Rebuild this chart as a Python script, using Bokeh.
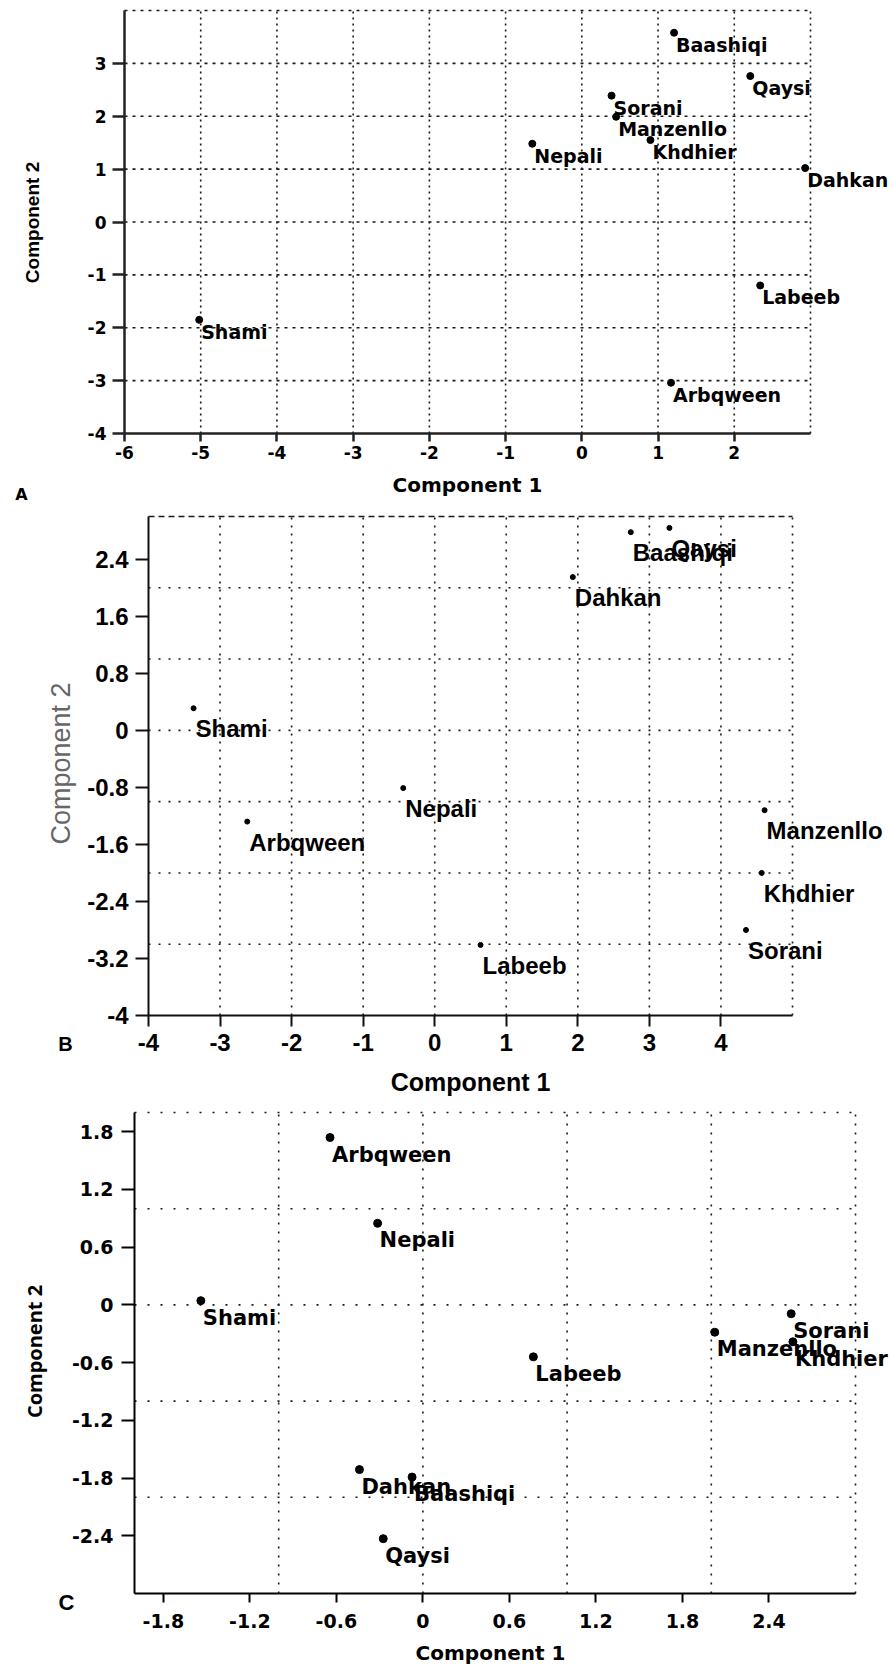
from bokeh.plotting import figure
from bokeh.models import Range1d, FixedTicker, LabelSet, Label, ColumnDataSource, LinearAxis
from bokeh.layouts import column
from bokeh.embed import file_html
from bokeh.resources import INLINE
from bokeh.core.properties import value

# ---------------- data ----------------
a_names = ["Baashiqi", "Qaysi", "Sorani", "Manzenllo", "Khdhier", "Nepali", "Dahkan", "Labeeb", "Shami", "Arbqween"]
a_x = [1.21, 2.21, 0.39, 0.45, 0.90, -0.65, 2.93, 2.34, -5.02, 1.17]
a_y = [3.58, 2.76, 2.39, 1.99, 1.55, 1.48, 1.02, -1.20, -1.85, -3.04]
a_xticks = [-6, -5, -4, -3, -2, -1, 0, 1, 2]
a_xtick_labels = ["-6", "-5", "-4", "-3", "-2", "-1", "0", "1", "2"]
a_yticks = [-4, -3, -2, -1, 0, 1, 2, 3]
a_ytick_labels = ["-4", "-3", "-2", "-1", "0", "1", "2", "3"]

b_names = ["Baashiqi", "Qaysi", "Dahkan", "Shami", "Nepali", "Arbqween", "Labeeb", "Manzenllo", "Khdhier", "Sorani"]
b_x = [2.74, 3.28, 1.93, -3.37, -0.44, -2.62, 0.64, 4.61, 4.57, 4.35]
b_y = [2.78, 2.84, 2.15, 0.31, -0.81, -1.28, -3.01, -1.12, -2.00, -2.80]
b_xticks = [-4, -3, -2, -1, 0, 1, 2, 3, 4]
b_xtick_labels = ["-4", "-3", "-2", "-1", "0", "1", "2", "3", "4"]
b_yticks = [-4, -3.2, -2.4, -1.6, -0.8, 0, 0.8, 1.6, 2.4]
b_ytick_labels = ["-4", "-3.2", "-2.4", "-1.6", "-0.8", "0", "0.8", "1.6", "2.4"]

c_names = ["Arbqween", "Nepali", "Shami", "Sorani", "Manzenllo", "Khdhier", "Labeeb", "Dahkan", "Baashiqi", "Qaysi"]
c_x = [-0.644, -0.314, -1.54, 2.554, 2.024, 2.566, 0.766, -0.44, -0.075, -0.275]
c_y = [1.74, 0.848, 0.044, -0.092, -0.284, -0.384, -0.54, -1.712, -1.79, -2.43]
c_xticks = [-1.8, -1.2, -0.6, 0, 0.6, 1.2, 1.8, 2.4]
c_xtick_labels = ["-1.8", "-1.2", "-0.6", "0", "0.6", "1.2", "1.8", "2.4"]
c_yticks = [-2.4, -1.8, -1.2, -0.6, 0, 0.6, 1.2, 1.8]
c_ytick_labels = ["-2.4", "-1.8", "-1.2", "-0.6", "0", "0.6", "1.2", "1.8"]

PAGE_L, PAGE_R = 0, 891
W = PAGE_R - PAGE_L


def make_panel(cfg):
    L, R, T, Bm = cfg["frame"]          # plot box in page pixels
    top0, H = cfg["fig_top"], cfg["fig_h"]
    x0, x1 = cfg["xr"]
    y0, y1 = cfg["yr"]
    kx = (R - L) / (x1 - x0)
    ky = (Bm - T) / (y1 - y0)
    xs = x0 - (L - PAGE_L) / kx
    xe = x1 + (PAGE_R - R) / kx
    ys = y0 - (top0 + H - Bm) / ky
    ye = y1 + (T - top0) / ky

    def dx(px):
        return x0 + (px - L) / kx

    def dy(py):
        return y0 + (Bm - py) / ky

    p = figure(width=W, height=H, x_range=Range1d(xs, xe), y_range=Range1d(ys, ye),
               output_backend="svg", toolbar_location=None,
               x_axis_location=None, y_axis_location=None,
               min_border=0, min_border_left=0, min_border_right=0,
               min_border_top=0, min_border_bottom=0)
    p.outline_line_color = None
    p.xgrid.visible = False
    p.ygrid.visible = False
    p.background_fill_color = "white"
    p.border_fill_color = "white"

    # dotted grid lines and borders
    for (xa, ya, xb, yb, dash) in cfg["gridlines"](x0, x1, y0, y1):
        p.segment(x0=xa, y0=ya, x1=xb, y1=yb, line_color="#1a1a1a", line_width=1.6, line_dash=dash)

    xaxis = LinearAxis(fixed_location=y0, bounds=(x0, x1))
    yaxis = LinearAxis(fixed_location=x0, bounds=(y0, y1))
    p.add_layout(xaxis, "below")
    p.add_layout(yaxis, "left")
    for ax, ticks, labels, tout, stand in [
        (xaxis, cfg["xticks"], cfg["xlabels"], cfg["xtick_out"], cfg["xstand"]),
        (yaxis, cfg["yticks"], cfg["ylabels"], cfg["ytick_out"], cfg["ystand"]),
    ]:
        ax.ticker = FixedTicker(ticks=ticks)
        ax.major_label_overrides = {t: l for t, l in zip(ticks, labels)}
        ax.minor_tick_line_color = None
        ax.major_tick_in = 0
        ax.major_tick_out = tout
        ax.major_label_standoff = stand
        ax.axis_line_width = cfg["axis_w"]
        ax.major_tick_line_width = cfg["axis_w"]
        ax.axis_line_color = cfg["axis_color"]
        ax.major_tick_line_color = cfg["axis_color"]
        ax.major_label_text_font = cfg["tick_font"]
        ax.major_label_text_font_size = cfg["tick_size"]
        ax.major_label_text_font_style = "bold"
        ax.major_label_text_color = "black"

    src = ColumnDataSource(dict(x=cfg["x"], y=cfg["y"], name=cfg["names"]))
    p.scatter("x", "y", source=src, size=cfg["msize"], color="black", marker="circle")
    p.add_layout(LabelSet(x="x", y="y", text="name", source=src, x_offset=2, y_offset=cfg["lab_dy"],
                          text_baseline="top", text_align="left",
                          text_font=value(cfg["lab_font"]), text_font_size=cfg["lab_size"],
                          text_font_style="bold", text_color="black"))

    tx, ty, tfont, tsize, tstyle, tcol = cfg["xtitle"]
    p.add_layout(Label(x=dx(tx), y=dy(ty), text="Component 1", text_align="center",
                       text_baseline="middle", text_font=tfont, text_font_size=tsize,
                       text_font_style=tstyle, text_color=tcol))
    tx, ty, tfont, tsize, tstyle, tcol = cfg["ytitle"]
    p.add_layout(Label(x=dx(tx), y=dy(ty), text="Component 2", text_align="center",
                       text_baseline="middle", angle=1.5707963, text_font=tfont,
                       text_font_size=tsize, text_font_style=tstyle, text_color=tcol))
    lt, tx, ty, tfont, tsize = cfg["letter"]
    p.add_layout(Label(x=dx(tx), y=dy(ty), text=lt, text_align="center",
                       text_baseline="middle", text_font=tfont, text_font_size=tsize,
                       text_font_style="bold", text_color="black"))
    return p


def grid_lines(vx, hy, vdash, hdash, extra=()):
    def build(x0, x1, y0, y1):
        out = [(vx, [y0] * len(vx), vx, [y1] * len(vx), vdash),
               ([x0] * len(hy), hy, [x1] * len(hy), hy, hdash)]
        for kind, loc, dash in extra:
            if kind == "v":
                out.append(([loc], [y0], [loc], [y1], dash))
            else:
                out.append(([x0], [loc], [x1], [loc], dash))
        return out
    return build


cfg_a = dict(frame=(124, 810, 10, 433), fig_top=0, fig_h=505, xr=(-6, 3), yr=(-4, 4),
             xticks=a_xticks, xlabels=a_xtick_labels, yticks=a_yticks, ylabels=a_ytick_labels,
             xtick_out=8, ytick_out=12, xstand=4, ystand=6, axis_w=2.5,
             axis_color="#222222", tick_font="DejaVu Sans", tick_size="17px",
             gridlines=grid_lines([-5, -4, -3, -2, -1, 0, 1, 2, 3], [-3, -2, -1, 0, 1, 2, 3, 4], "2 4", "3 5"),
             x=a_x, y=a_y, names=a_names, msize=7, lab_dy=-1, lab_font="DejaVu Sans", lab_size="19px",
             xtitle=(467, 484, "DejaVu Sans", "20px", "bold", "black"),
             ytitle=(32, 222, "Liberation Sans", "19px", "bold", "black"),
             letter=("A", 21, 494, "DejaVu Sans", "16px"))

cfg_b = dict(frame=(148, 792, 516, 1015), fig_top=505, fig_h=592, xr=(-4, 5), yr=(-4, 3),
             xticks=b_xticks, xlabels=b_xtick_labels, yticks=b_yticks, ylabels=b_ytick_labels,
             xtick_out=11, ytick_out=13, xstand=7, ystand=7, axis_w=2,
             axis_color="#111111", tick_font="Liberation Sans", tick_size="24px",
             gridlines=grid_lines([-3, -2, -1, 0, 1, 2, 3, 4], [-3, -2, -1, 0, 1, 2], "2 6", "2 8",
                                  extra=(("v", 5, "2 6"), ("h", 3, "6 4"))),
             x=b_x, y=b_y, names=b_names, msize=5, lab_dy=-7, lab_font="Liberation Sans", lab_size="24px",
             xtitle=(470, 1081, "Liberation Sans", "25px", "bold", "black"),
             ytitle=(60, 763, "Liberation Sans", "27px", "normal", "#666666"),
             letter=("B", 65, 1043, "Liberation Sans", "20px"))

cfg_c = dict(frame=(134, 855, 1112, 1593), fig_top=1097, fig_h=570, xr=(-2, 3), yr=(-3, 2),
             xticks=c_xticks, xlabels=c_xtick_labels, yticks=c_yticks, ylabels=c_ytick_labels,
             xtick_out=9, ytick_out=13, xstand=11, ystand=8, axis_w=2,
             axis_color="black", tick_font="DejaVu Sans", tick_size="19px",
             gridlines=grid_lines([-1, 0, 1, 2, 3], [-2, -1, 0, 1, 2], "2 7", "2 11"),
             x=c_x, y=c_y, names=c_names, msize=8, lab_dy=-5, lab_font="DejaVu Sans", lab_size="21px",
             xtitle=(490, 1652, "DejaVu Sans", "20px", "bold", "black"),
             ytitle=(34, 1351, "Open Sans", "20px", "bold", "black"),
             letter=("C", 66, 1602, "Liberation Sans", "22px"))

pa = make_panel(cfg_a)
pb = make_panel(cfg_b)
pc = make_panel(cfg_c)

layout = column(pa, pb, pc, spacing=0)
open("out.html", "w").write(file_html(layout, INLINE))
